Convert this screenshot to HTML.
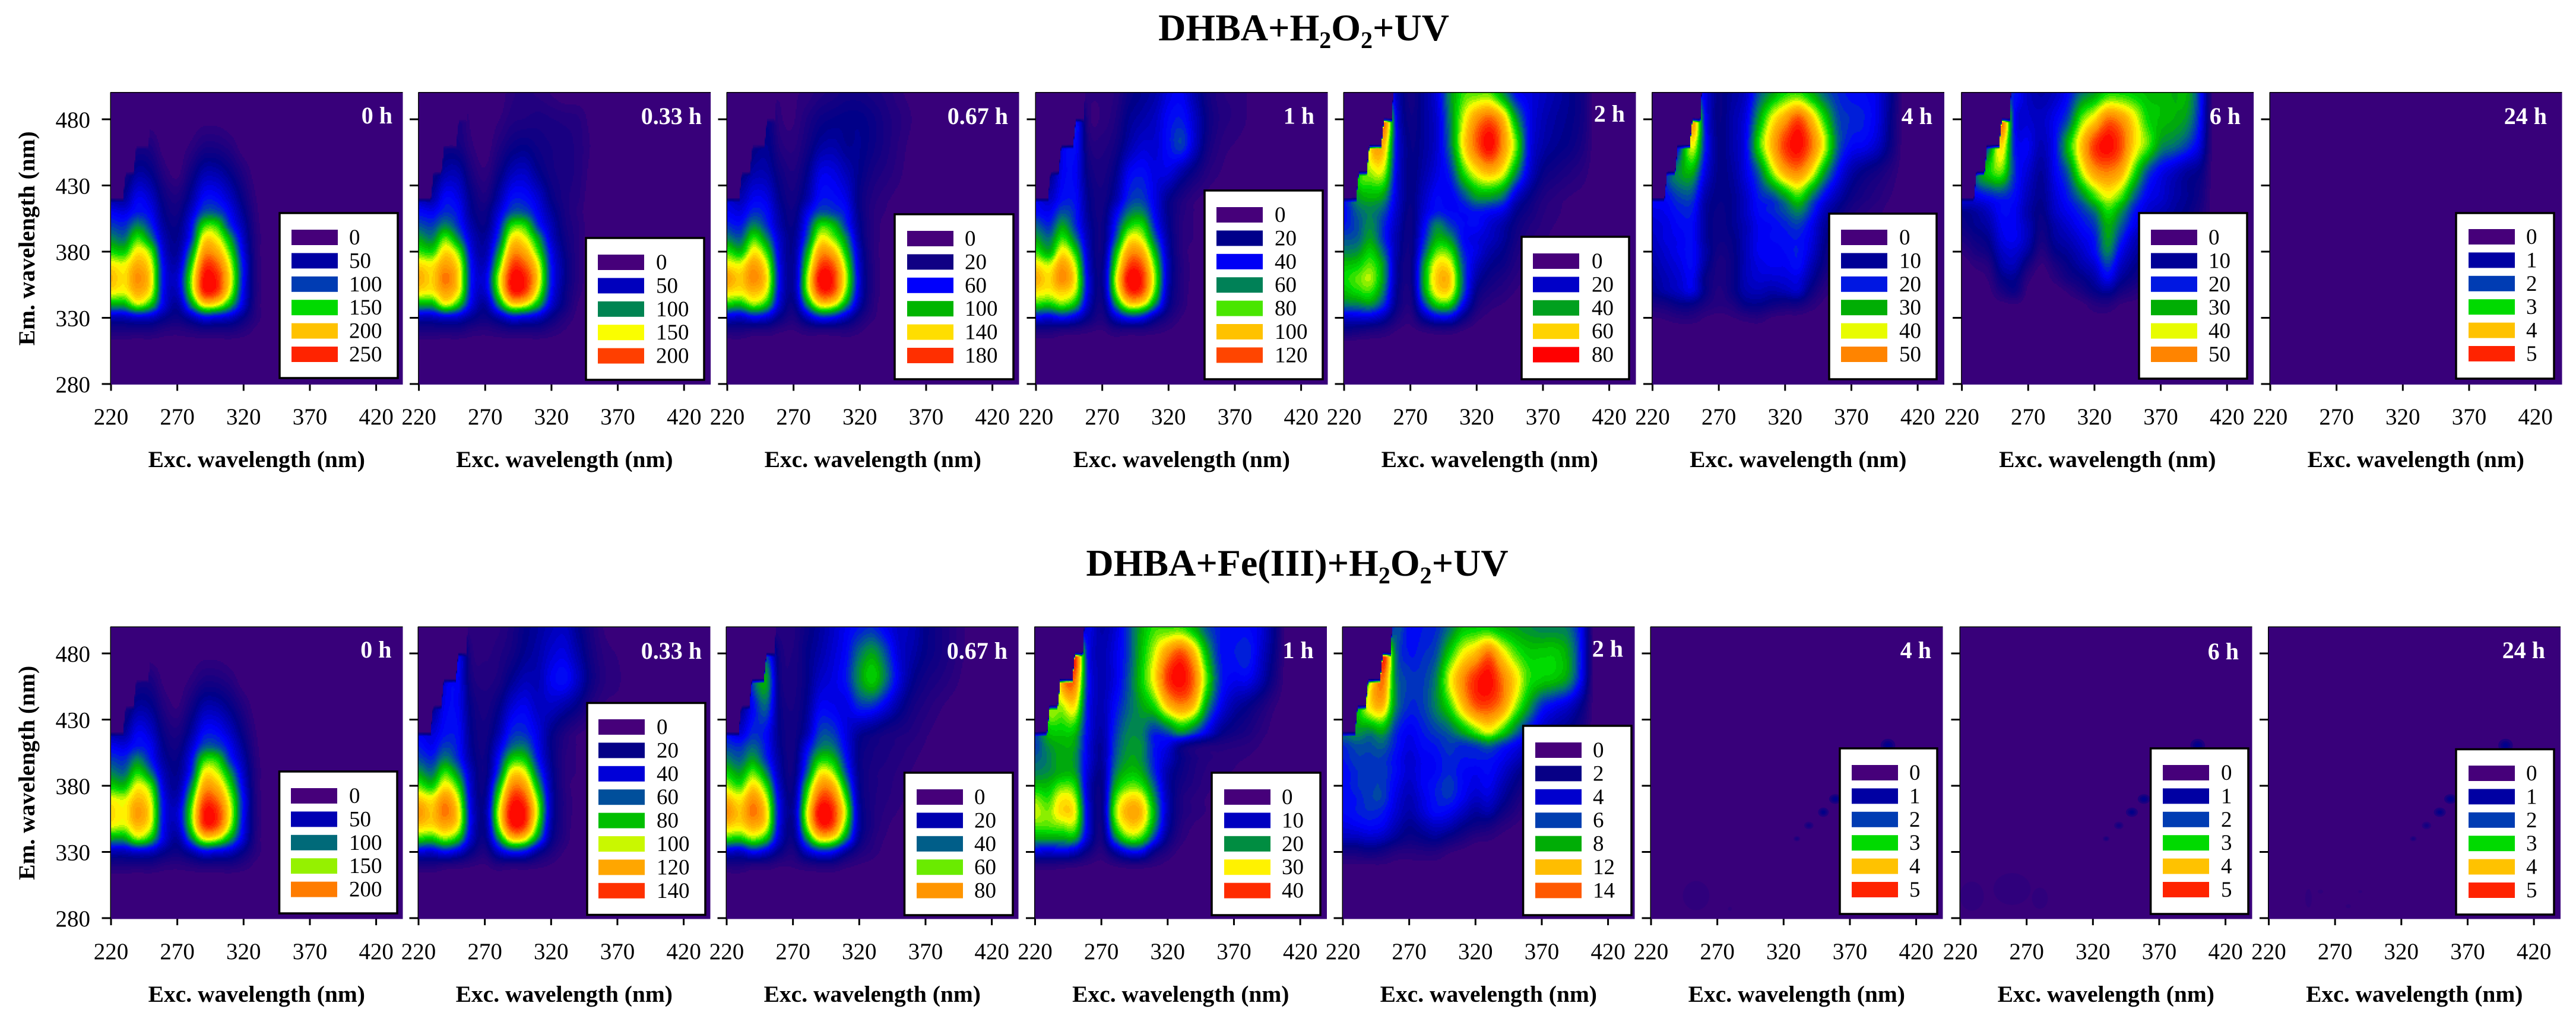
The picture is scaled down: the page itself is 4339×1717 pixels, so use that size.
<!DOCTYPE html>
<html lang="en">
<head>
<meta charset="utf-8">
<title>DHBA excitation-emission matrices</title>
<style>
html,body{margin:0;padding:0;background:#fff;width:4339px;height:1717px;overflow:hidden}
svg{display:block}
text{font-family:"Liberation Serif","DejaVu Serif",serif;fill:#000}
.title{font-size:64px;font-weight:bold}
.axis-title{font-size:39.5px;font-weight:bold}
.tick{font-size:39px}
.legend-text{font-size:37px}
.time{font-size:40px;font-weight:bold;fill:#fff}
</style>
</head>
<body>
<svg id="figure" xmlns="http://www.w3.org/2000/svg" width="4339" height="1717" viewBox="0 0 4339 1717">
<rect width="4339" height="1717" fill="#fff"/>
<text class="title" x="2196" y="68" text-anchor="middle">DHBA+H<tspan dy="13" font-size="40">2</tspan><tspan dy="-13">O</tspan><tspan dy="13" font-size="40">2</tspan><tspan dy="-13">+UV</tspan></text>
<text class="title" x="2185" y="970" text-anchor="middle">DHBA+Fe(III)+H<tspan dy="13" font-size="40">2</tspan><tspan dy="-13">O</tspan><tspan dy="13" font-size="40">2</tspan><tspan dy="-13">+UV</tspan></text>
</svg>
<script>
// Each panel = one array per excitation column (220, 230, ... nm); each column
// lists values at the EM_GRID wavelengths, and anything not listed is 0.
const EXC_START = 220;
const EXC_STEP = 10;
const EM_GRID = [320,330,340,350,360,370,380,390,400,410,420,440,460,480,500];
const xTickLabels = [220,270,320,370,420];
const yTickLabels = [280,330,380,430,480];
const scatterExc = [229,231,237,239,248,250,256,258];
const scatterEm = [421,441,441,461,461,481,481,520];

const a0h = [
[8,22,52,72,78,72,58,47,38,30,20,10],
[8,22,52,70,73,70,56,44,36,28,18,8],
[8,26,66,80,85,80,72,60,46,34,30,18,8],
[8,24,55,70,73,70,62,46,36,30,25,15,7],
[5,16,28,30,31,30,26,22,18,15,12,5],
[4,12,18,24,26,22,18,16,14,11,8,1],
[6,20,45,60,62,55,45,34,30,24,18,10,3],
[8,30,72,96,98,92,82,72,58,40,32,20,8,1],
[8,28,70,94,96,90,80,70,58,40,32,20,8,1],
[8,24,52,68,72,68,60,50,36,30,24,14,5],
[5,14,26,30,32,32,28,24,20,16,12,6],
[1,4,5,6,6,6,5,5,4,3,2]];
const a033h = [
[8,22,52,73,80,74,60,50,40,32,22,12],
[8,22,52,72,75,72,58,46,38,30,20,10],
[8,26,68,82,88,82,74,62,46,36,32,20,10],
[8,24,55,71,74,71,62,46,36,32,28,20,10,7],
[5,16,28,32,33,32,28,24,20,16,14,8,3,1],
[4,12,18,26,28,24,20,18,14,12,8,3],
[6,20,46,62,66,58,48,38,32,26,20,12,6,2],
[8,30,72,96,99,92,82,72,58,40,33,22,12,6,4],
[8,28,70,94,97,90,80,70,58,40,33,24,14,7,5],
[8,24,52,68,74,70,60,50,36,30,26,16,11,8,4],
[5,14,26,32,34,33,30,25,22,18,14,10,9,7,2],
[2,6,12,14,16,16,14,12,10,9,8,8,8,6,0],
[0,1,2,4,5,5,5,5,5,4,5,6,6,5],
[0,0,0,0,0,0,0,0,0,0,0,1,2,1]];
const a067h = [
[8,26,56,74,82,72,60,46,36,30,25,10],
[8,24,54,72,76,70,54,42,34,28,22,12],
[6,30,64,78,86,82,72,60,46,36,30,20,12],
[6,26,54,68,72,68,58,46,36,32,28,20,16,12],
[3,14,24,28,30,28,26,24,20,18,15,11,6,3,2],
[2,8,14,18,18,18,17,16,14,12,10,7,4,2,2],
[5,22,46,62,64,58,50,40,34,28,20,15,10,7,3],
[6,34,72,94,100,92,82,70,58,40,33,28,18,12,6],
[6,32,70,92,96,90,78,64,54,38,33,28,20,14,8],
[6,22,48,62,66,62,54,46,36,32,28,22,16,15,10],
[3,10,20,25,26,24,22,18,16,14,13,15,16,15,10],
[0,3,5,6,6,6,5,5,5,5,6,9,12,12,8],
[0,0,0,1,1,1,1,1,1,2,3,6,8,8,6],
[0,0,0,0,0,0,0,0,0,0,1,3,4,5,3],
[0,0,0,0,0,0,0,0,0,0,0,0,1,2,1]];
const a1h = [
[8,30,58,73,80,73,60,50,42,32,28,12],
[8,28,56,71,74,68,52,44,36,30,24,14],
[6,32,62,76,86,82,72,60,50,40,33,30,28,20],
[5,26,52,66,70,66,56,44,36,34,32,30,32,32,5],
[3,14,22,26,26,24,22,20,18,16,15,12,8,4,3],
[2,8,12,15,16,15,13,12,12,11,10,8,6,3,3],
[6,24,46,62,66,60,52,40,34,28,20,15,10,7,5],
[6,34,72,94,100,92,82,70,56,44,36,30,20,16,12],
[6,32,70,92,96,90,80,68,58,46,38,33,26,20,16],
[4,18,46,60,64,60,52,42,34,30,28,28,26,24,20],
[2,8,16,20,22,22,20,18,16,15,16,28,33,32,28],
[0,2,5,6,6,6,5,5,5,6,8,20,38,34,30],
[0,0,0,0,1,1,1,2,2,2,3,12,24,24,20],
[0,0,0,0,0,0,0,0,0,0,1,5,10,12,10],
[0,0,0,0,0,0,0,0,0,0,0,2,4,6,5],
[0,0,0,0,0,0,0,0,0,0,0,0,2,4,4],
[0,0,0,0,0,0,0,0,0,0,0,0,1,2,2]];
const a2h = [
[12,25,45,54,58,54,46,40,34,32,30,0],
[10,26,46,58,62,56,48,42,40,42,48,52],
[8,26,48,60,66,62,56,50,47,46,52,66,72,40,10],
[6,20,36,44,48,48,42,36,36,40,48,66,78,86,40],
[2,8,14,16,18,18,20,20,22,24,26,28,30,28,22],
[1,4,8,10,12,12,12,12,12,13,14,14,14,12,10],
[3,18,36,48,50,48,40,34,30,26,24,20,18,18,18],
[5,28,56,72,76,72,62,52,46,34,32,28,26,26,28],
[5,28,56,72,76,70,60,48,38,32,30,36,44,46,48],
[2,14,30,40,42,40,36,32,32,32,38,58,72,68,60],
[0,4,10,15,20,24,28,28,32,34,48,72,90,84,62],
[0,1,4,8,12,16,20,24,26,32,48,78,100,90,62],
[0,0,2,5,8,12,15,18,20,28,42,70,84,78,48],
[0,0,0,2,4,6,8,10,12,16,24,48,62,50,32],
[0,0,0,0,1,3,4,5,7,10,14,26,30,30,28],
[0,0,0,0,0,1,2,3,4,5,7,14,20,22,24],
[0,0,0,0,0,0,1,1,2,3,4,10,16,18,20],
[0,0,0,0,0,0,0,0,1,1,2,7,13,15,16],
[0,0,0,0,0,0,0,0,0,0,1,4,8,10,10]];
const a4h = [
[0,2,8,16,18,20,22,24,26,28,30,0],
[0,3,10,20,22,24,26,28,28,30,32,34],
[0,5,14,24,26,28,30,30,32,34,38,48,34,10],
[0,5,14,28,30,32,32,32,32,34,38,52,70,80,40],
[0,2,8,14,14,18,20,18,18,18,20,28,34,32,28],
[0,1,5,6,8,8,10,12,12,13,14,15,15,14,14],
[0,2,7,12,12,12,13,14,16,16,16,18,20,20,18],
[0,4,14,20,22,22,22,22,22,24,24,28,30,28,24],
[0,5,15,22,26,28,30,30,30,32,34,42,58,50,40],
[0,2,12,20,26,30,30,32,32,35,38,64,78,70,50],
[0,1,10,22,27,30,32,33,35,40,48,80,94,82,58],
[0,1,10,24,28,33,34,34,38,46,58,85,100,92,60],
[0,0,5,12,18,22,26,28,30,36,44,72,88,78,52],
[0,0,1,4,8,12,14,16,18,22,30,50,68,58,42],
[0,0,0,2,4,6,8,9,11,14,20,32,42,40,36],
[0,0,0,0,1,2,3,5,6,8,12,20,32,36,33],
[0,0,0,0,0,0,1,2,3,5,8,14,30,34,32],
[0,0,0,0,0,0,0,1,2,3,5,10,24,28,28],
[0,0,0,0,0,0,0,0,0,1,2,5,12,14,16]];
const a6h = [
[0,0,0,0,0,0,3,8,12,15,25,0],
[0,0,0,0,1,3,8,12,16,18,28,40],
[0,0,0,1,3,6,12,16,20,24,32,56,40,14],
[0,0,1,8,14,20,24,28,30,32,35,62,74,85,30],
[0,0,2,12,16,22,26,30,30,30,32,36,34,32,34],
[0,0,0,1,4,10,18,22,22,20,22,26,30,26,24],
[0,0,0,0,0,2,6,10,12,14,16,18,22,24,20],
[0,0,0,0,4,8,14,18,20,24,26,30,32,30,24],
[0,0,0,3,10,14,18,22,26,30,34,42,54,40,32],
[0,0,1,8,14,20,24,28,32,36,44,66,76,62,44],
[0,1,5,14,20,26,32,34,38,44,58,82,94,74,50],
[0,1,6,18,30,38,46,50,52,58,68,86,100,88,58],
[0,0,2,10,18,24,30,36,42,48,60,80,92,84,58],
[0,0,1,6,12,16,20,24,30,34,42,60,74,72,56],
[0,0,0,3,8,12,16,20,24,26,30,40,62,58,54],
[0,0,0,1,4,8,12,16,20,22,26,30,48,54,54],
[0,0,0,0,2,5,8,12,16,18,20,24,44,52,52],
[0,0,0,0,0,2,4,8,12,14,16,18,38,48,52],
[0,0,0,0,0,0,0,2,6,8,10,14,26,32,34]];
const a24h = [];
const b0h = [
[8,22,50,70,74,70,56,46,38,30,20,10],
[8,22,50,68,71,68,54,43,36,28,18,8],
[8,26,64,78,83,78,70,58,46,34,30,18,8],
[8,24,54,68,71,68,60,44,34,30,25,16,8],
[5,16,28,30,31,30,26,22,18,15,12,6,1],
[4,12,18,24,26,22,18,16,14,11,8,2],
[6,20,44,58,60,54,44,34,30,24,18,10,3],
[8,30,70,94,97,90,80,70,57,40,32,20,8,1],
[8,28,68,92,95,88,78,68,57,40,32,20,8,1],
[8,24,50,66,70,66,58,48,36,30,24,14,5],
[5,14,26,30,32,32,28,24,20,16,12,6],
[1,4,5,6,6,6,5,5,4,3,2]];
const b033h = [
[8,28,58,76,84,76,62,50,40,34,28,10],
[8,26,56,74,77,72,56,44,36,30,26,14],
[6,32,64,80,88,84,72,60,46,38,33,30,26,12],
[5,26,54,70,73,68,58,46,36,33,32,30,30,28,4],
[3,14,24,28,28,26,24,22,18,16,15,13,9,6,3],
[2,8,14,16,18,16,14,12,12,11,10,8,6,4,3],
[6,24,46,62,66,60,50,38,32,26,20,14,8,6,4],
[6,34,74,96,100,94,84,72,56,42,35,26,16,10,8],
[6,32,72,94,98,92,82,70,56,44,36,30,22,16,14],
[4,18,46,60,66,62,52,42,34,30,28,24,22,20,18],
[2,8,16,20,22,22,20,18,16,15,16,24,30,26,22],
[0,2,5,6,6,6,5,5,5,6,8,20,33,28,24],
[0,0,0,0,1,1,1,2,2,2,3,14,24,20,16],
[0,0,0,0,0,0,0,0,0,0,1,6,12,10,8],
[0,0,0,0,0,0,0,0,0,0,0,2,5,4,2],
[0,0,0,0,0,0,0,0,0,0,0,1,3,2]];
const b067h = [
[8,26,58,76,85,78,66,56,46,38,30,8],
[8,24,56,73,77,72,60,50,42,36,26,14],
[6,32,64,80,88,84,74,62,50,42,36,32,40,28,8],
[6,26,54,70,73,68,58,46,36,33,32,42,50,36,6],
[3,14,24,28,30,28,24,20,18,16,15,14,12,10,5],
[3,8,14,16,18,16,14,12,11,10,10,9,8,7,6],
[6,24,46,62,66,60,52,40,34,28,20,16,14,14,12],
[8,34,72,94,100,92,82,70,56,44,38,30,24,20,18],
[8,32,70,92,96,90,80,66,54,44,38,30,28,26,24],
[4,18,46,60,66,60,50,40,34,30,28,28,34,32,30],
[2,8,16,20,20,18,16,15,14,15,18,36,48,44,34],
[1,4,6,8,8,8,8,8,9,10,14,36,56,50,36],
[0,1,2,3,4,5,6,6,7,8,10,28,44,40,30],
[0,0,1,1,2,3,3,4,5,6,8,18,28,26,24],
[0,0,0,0,0,1,1,2,3,4,6,10,16,20,22],
[0,0,0,0,0,0,0,0,1,2,3,6,10,14,15],
[0,0,0,0,0,0,0,0,0,0,1,3,7,10,10],
[0,0,0,0,0,0,0,0,0,0,0,1,4,6,6],
[0,0,0,0,0,0,0,0,0,0,0,0,1,2,2]];
const b1h = [
[6,28,50,62,68,64,54,46,42,38,38,30],
[6,26,50,62,64,60,54,48,46,48,54,60],
[5,28,50,64,74,72,62,52,52,52,56,66,78,50,8],
[4,24,50,64,70,66,58,50,48,50,54,72,88,90,12],
[2,12,24,28,28,26,24,26,28,28,30,32,34,32,28],
[1,5,10,12,14,14,15,16,18,18,20,22,22,22,20],
[3,18,42,56,62,58,50,44,40,38,36,32,28,28,26],
[5,30,60,74,80,74,62,54,50,48,46,42,40,38,38],
[5,30,58,72,78,72,60,52,48,48,46,50,56,54,52],
[3,14,36,48,52,48,42,36,34,34,36,58,72,68,60],
[1,6,14,20,22,22,20,20,24,28,40,76,94,84,60],
[0,1,4,6,8,8,10,12,14,16,48,84,100,92,60],
[0,0,1,2,4,4,6,7,8,10,40,76,88,78,52],
[0,0,0,1,2,2,3,4,5,7,28,48,60,52,40],
[0,0,0,0,1,1,2,3,4,6,16,30,36,34,34],
[0,0,0,0,0,0,1,2,3,5,11,20,30,34,32],
[0,0,0,0,0,0,0,1,2,4,8,15,30,36,32],
[0,0,0,0,0,0,0,0,1,2,4,9,22,26,28],
[0,0,0,0,0,0,0,0,0,0,1,3,10,14,16]];
const b2h = [
[2,10,22,28,32,32,32,32,34,36,42,20],
[2,10,22,30,34,34,36,36,38,40,48,48],
[2,12,24,32,36,38,38,38,38,40,46,72,62,12],
[2,10,22,30,34,38,38,38,38,42,50,78,88,90,14],
[1,6,16,22,26,28,30,32,32,34,36,46,46,44,40],
[1,5,12,16,20,22,24,26,26,28,30,36,38,34,32],
[1,6,14,20,26,28,30,30,30,32,34,38,38,36,34],
[1,6,16,24,32,34,34,32,32,34,38,46,46,40,36],
[0,3,12,22,30,36,38,36,36,38,42,58,68,56,44],
[0,1,8,16,24,30,32,32,34,36,50,76,84,70,54],
[0,0,4,12,18,24,28,30,34,38,60,90,96,78,56],
[0,0,3,10,20,26,30,32,34,42,68,92,100,88,56],
[0,0,1,5,12,18,22,26,30,36,58,84,88,74,52],
[0,0,0,2,6,10,14,18,24,30,44,66,74,62,50],
[0,0,0,0,1,4,8,12,18,24,32,50,60,56,48],
[0,0,0,0,0,1,3,8,12,18,24,36,56,56,46],
[0,0,0,0,0,0,1,4,8,12,18,30,54,56,46],
[0,0,0,0,0,0,0,2,4,8,14,25,48,50,44],
[0,0,0,0,0,0,0,0,1,3,8,15,30,32,30]];
const b4h = [];
const b6h = [];
const b24h = [];

// Small isolated features in the near-empty panels: [exc nm, em nm, value %, half-width nm, half-height nm]
const speckA24h = [];
const speckB4h = [[254,297,5,10,11],[279.5,287,5,1.5,1.5],[330,340,8,2.5,2],[339,350,10,3.5,2.8],[350,360,15,4,3.5],[359,370,16,4.7,3.6],[398.7,410.5,16,5.5,5]];
const speckB6h = [[228.7,296.6,5,9,11],[259,302,5,14,12],[280,295,5,6,8],[330,340,8,2.5,2],[339.5,350,10,3.5,2.8],[349.4,360,15,4.5,3.5],[358.5,370,16,4.7,3.6],[399,410.5,16,5.5,5]];
const speckB24h = [[250,295,5,2.5,7],[259,300,5,2,1.5],[280,289,5,2,1.5],[289,300,5,1.5,1],[329,340,8,2.5,2],[339,350,10,3.5,2.8],[349,360,15,4.5,3.5],[357,370,16,4.7,3.6],[398.6,410.5,16,5.5,5]];

const timeLabels = ['0 h','0.33 h','0.67 h','1 h','2 h','4 h','6 h','24 h'];
const scaleTopsA = [260,215,190,130,80,58,58,5.2];
const scaleTopsB = [230,148,95,42,15.5,5.2,5.2,5.2];
const legendA = [[0,50,100,150,200,250],[0,50,100,150,200],[0,20,60,100,140,180],[0,20,40,60,80,100,120],[0,20,40,60,80],[0,10,20,30,40,50],[0,10,20,30,40,50],[0,1,2,3,4,5]];
const legendB = [[0,50,100,150,200],[0,20,40,60,80,100,120,140],[0,20,40,60,80],[0,10,20,30,40],[0,2,4,6,8,12,14],[0,1,2,3,4,5],[0,1,2,3,4,5],[0,1,2,3,4,5]];

// colour scale
const scaleStops = [0,5,15,25,32,38,45,52,58,65,70,78,85,92,100];
const scaleColors = ['#38007a','#24007e','#000088','#0000c8','#0000ff','#0038b8','#007868','#00b000','#00dc00','#90f000','#ffff00','#ffb800','#ff9000','#ff4800','#ff0000'];
const BAND_COUNT = 44;

// layout (pixels, not data)
const PANEL_SIZE = 492.5;
const X_PER_NM = 2.233;
const Y_PER_NM = 2.23;
const leftA = [186,704.6,1224,1744,2263,2782.5,3303.6,3823];
const leftB = [186,704,1223,1742.5,2261,2780,3301,3820.5];
const timeRightA = [661,1182,1698,2214,2737,3255,3774,4290];
const timeRightB = [659.5,1182,1697,2212.6,2734,3253,3771,4287];
const timeBaseA = [208,209,209,208.5,205,209,209,209];
const timeBaseB = [1108,1110,1110,1109,1106.5,1109,1111,1109];
const legendLayoutA = [[471,670,359,637,491,588,400],[987,1186,401,640,1007,1105,442],[1507,1707,361,639,1528,1625,402],[2029,2228,321,639,2049,2147,362],[2563,2744,399,639,2582,2681,440],[3081,3262,360,639,3101,3199,400],[3603,3785,359,638,3623,3720,400],[4137,4302,359,638,4158,4255,399]];
const legendLayoutB = [[470.5,669,1300,1539,490,588,1341],[989,1188,1184.5,1541.5,1008,1106,1225],[1523.5,1706,1302,1542,1544,1641,1343],[2041,2224,1302,1542,2062,2159,1343],[2565.6,2748,1223,1542,2586,2683,1264],[3099,3263,1261,1540,3119,3216,1302],[3622.6,3787,1261,1540,3643,3741,1302],[4137,4302,1262.5,1541,4158,4255,1303]];

const rows = [
  {key:'h2o2-uv', top:155.5, y280:647, titleBase:787, tickBase:715, left:leftA, timeRight:timeRightA, timeBase:timeBaseA, tops:scaleTopsA, legend:legendA, legendLayout:legendLayoutA,
   grids:[a0h,a033h,a067h,a1h,a2h,a4h,a6h,a24h], specks:[[],[],[],[],[],[],[],speckA24h]},
  {key:'fe-h2o2-uv', top:1056, y280:1547, titleBase:1688, tickBase:1616, left:leftB, timeRight:timeRightB, timeBase:timeBaseB, tops:scaleTopsB, legend:legendB, legendLayout:legendLayoutB,
   grids:[b0h,b033h,b067h,b1h,b2h,b4h,b6h,b24h], specks:[[],[],[],[],[],speckB4h,speckB6h,speckB24h]}
];

const svg = document.getElementById('figure');
const NS = 'http://www.w3.org/2000/svg';
function mk(tag, attrs, parent, txt){
  const el = document.createElementNS(NS, tag);
  for (const k in attrs) el.setAttribute(k, attrs[k]);
  if (txt !== undefined) el.textContent = txt;
  parent.appendChild(el);
  return el;
}
function hex(c){return [parseInt(c.slice(1,3),16),parseInt(c.slice(3,5),16),parseInt(c.slice(5,7),16)];}
function colourOf(p){
  p = Math.max(0, Math.min(100, p));
  let i = 0;
  while (i < scaleStops.length-2 && p > scaleStops[i+1]) i++;
  const t = (p-scaleStops[i])/(scaleStops[i+1]-scaleStops[i]);
  const a = hex(scaleColors[i]), b = hex(scaleColors[i+1]);
  return 'rgb('+a.map((v,j)=>Math.round(v+(b[j]-v)*t)).join(',')+')';
}
function emIndex(em){
  if (em <= EM_GRID[0]) return (em-EM_GRID[0])/10;
  for (let i=0;i<EM_GRID.length-1;i++){
    if (em <= EM_GRID[i+1]) return i+(em-EM_GRID[i])/(EM_GRID[i+1]-EM_GRID[i]);
  }
  return EM_GRID.length-1;
}
function cell(grid,c,r){
  if (c < 0) c = 0;
  const col = grid[c];
  if (!col || r < 0) return 0;
  if (r >= EM_GRID.length) r = EM_GRID.length-1;
  return col[r] || 0;
}
function cr(p0,p1,p2,p3,t){
  return 0.5*((2*p1)+(-p0+p2)*t+(2*p0-5*p1+4*p2-p3)*t*t+(-p0+3*p1-3*p2+p3)*t*t*t);
}
function scatterCut(exc){
  if (exc <= scatterExc[0]) return scatterEm[0];
  for (let i=0;i<scatterExc.length-1;i++){
    if (exc <= scatterExc[i+1]) return scatterEm[i]+(scatterEm[i+1]-scatterEm[i])*(exc-scatterExc[i])/(scatterExc[i+1]-scatterExc[i]);
  }
  return 9999;
}
function sample(grid,exc,em){
  const fx = (exc-EXC_START)/EXC_STEP, fy = emIndex(em);
  const cx = Math.floor(fx), ry = Math.floor(fy), tx = fx-cx, ty = fy-ry;
  const v = [];
  for (let i=-1;i<=2;i++){
    v.push(cr(cell(grid,cx+i,ry-1),cell(grid,cx+i,ry),cell(grid,cx+i,ry+1),cell(grid,cx+i,ry+2),ty));
  }
  let out = cr(v[0],v[1],v[2],v[3],tx);
  const edge = (scatterCut(exc)-em)/3.5;
  out *= Math.max(0,Math.min(1,edge));
  return Math.max(0,Math.min(100,out));
}

rows.forEach(row => {
  row.grids.forEach((grid,p) => {
    const left = row.left[p], top = row.top, y280 = row.y280;
    const xScale = exc => left+1+(exc-220)*X_PER_NM;
    const yScale = em => y280-(em-280)*Y_PER_NM;
    const xInv = px => 220+(px-left-1)/X_PER_NM;
    const yInv = py => 280+(y280-py)/Y_PER_NM;
    const name = row.key+'-'+timeLabels[p].replace(/[ .]/g,'');
    const g = mk('g',{},svg);
    
    

    const bg = mk('rect',{x:left,y:top,width:PANEL_SIZE,height:PANEL_SIZE,fill:scaleColors[0]},g);
    
    

    // filled contour bands
    if (grid.length){
      const STEP = 2, x0 = Math.round(left), y0 = Math.round(top), cells = Math.round(PANEL_SIZE/STEP);
      const paths = {};
      for (let j=0;j<cells;j++){
        const py = y0+j*STEP, em = yInv(py+STEP/2);
        let runBand = -1, runStart = 0;
        for (let i=0;i<=cells;i++){
          let band = -1;
          if (i < cells){
            const val = sample(grid,xInv(x0+i*STEP+STEP/2),em);
            band = val < 1.2 ? 0 : Math.min(BAND_COUNT-1,Math.floor(val/100*BAND_COUNT));
          }
          if (band !== runBand){
            if (runBand > 0){
              const w = (i-runStart)*STEP;
              paths[runBand] = (paths[runBand]||'')+'M'+(x0+runStart*STEP)+' '+py+'h'+w+'v'+STEP+'h-'+w+'z';
            }
            runBand = band; runStart = i;
          }
        }
      }
      Object.keys(paths).map(Number).sort((a,b)=>a-b).forEach(b => {
        const path = mk('path',{d:paths[b],fill:colourOf((b+0.5)/BAND_COUNT*100),'shape-rendering':'crispEdges'},g);
        
        
      });
    }

    // isolated low-intensity features
    row.specks[p].forEach(s => {
      [[1,0.45],[0.65,0.75],[0.35,1]].forEach(level => {
        if (s[2] < 7 && level[0] < 1) return;
        const e = mk('ellipse',{cx:xScale(s[0]),cy:yScale(s[1]),rx:s[3]*level[0]*X_PER_NM,ry:s[4]*level[0]*Y_PER_NM,fill:colourOf(s[2]*level[1])},g);
        
        
      });
    });

    // frame
    const frameTop = mk('rect',{x:left,y:top-0.5,width:PANEL_SIZE,height:1.5,fill:'#000'},g);
    
    
    const frameLeft = mk('rect',{x:left-0.5,y:top,width:1.5,height:PANEL_SIZE,fill:'#000'},g);
    
    

    // x axis
    xTickLabels.forEach(v => {
      const t = mk('rect',{x:xScale(v)-1.5,y:top+PANEL_SIZE,width:3,height:10.5,fill:'#000'},g);
      
      
      const l = mk('text',{class:'tick',x:xScale(v),y:row.tickBase,'text-anchor':'middle'},g,String(v));
      
      
    });
    const xt = mk('text',{class:'axis-title',x:left+PANEL_SIZE/2,y:row.titleBase,'text-anchor':'middle'},g,'Exc. wavelength (nm)');
    
    

    // y axis
    yTickLabels.forEach(v => {
      const t = mk('rect',{x:left-14.5,y:yScale(v)-1.5,width:14.5,height:3,fill:'#000'},g);
      
      
      if (p === 0){
        const l = mk('text',{class:'tick',x:152,y:yScale(v)+14,'text-anchor':'end'},g,String(v));
        
        
      }
    });
    if (p === 0){
      const cy = top+PANEL_SIZE/2;
      const yt = mk('text',{class:'axis-title',x:0,y:0,'text-anchor':'middle',transform:'translate(58 '+cy+') rotate(-90)'},g,'Em. wavelength (nm)');
      
      
    }

    // time label
    const tl = mk('text',{class:'time',x:row.timeRight[p],y:row.timeBase[p],'text-anchor':'end'},g,timeLabels[p]);
    
    

    // legend
    const L = row.legendLayout[p];
    const lg = mk('g',{},g);
    
    
    const box = mk('rect',{x:L[0],y:L[2],width:L[1]-L[0],height:L[3]-L[2],fill:'#fff',stroke:'#000','stroke-width':3.5},lg);
    
    
    row.legend[p].forEach((v,i) => {
      const cy = L[6]+i*39.4;
      const fill = v === 0 ? '#46007a' : colourOf(v/row.tops[p]*100);
      const sw = mk('rect',{x:L[4],y:cy-13,width:78,height:26,fill:fill},lg);
      
      
      const tx = mk('text',{class:'legend-text',x:L[5],y:cy+12},lg,String(v));
      
      
    });
  });
});
</script>
</body>
</html>
